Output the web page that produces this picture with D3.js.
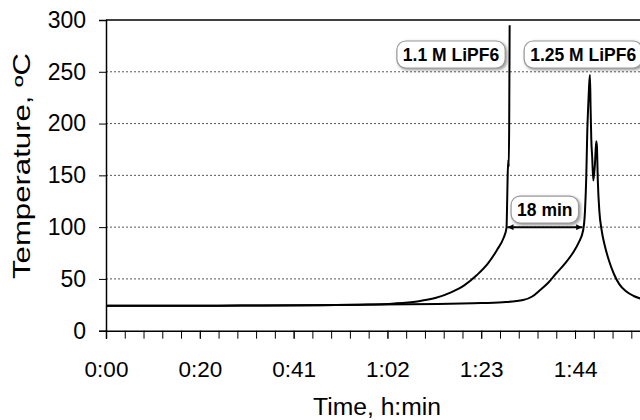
<!DOCTYPE html>
<html>
<head>
<meta charset="utf-8">
<script src="https://cdn.jsdelivr.net/npm/d3@7/dist/d3.min.js"></script>
<style>
  html, body { margin: 0; padding: 0; background: #fff; }
  svg text { font-family: Arial, "Liberation Sans", sans-serif; }
</style>
</head>
<body>
<svg id="chart" width="640" height="420"></svg>
<script>
// ---- data (time in minutes, temperature in °C) ----
const time1 = [0, 15, 30, 45, 58, 64, 69, 73, 76.5, 79.5, 82.3, 84.7, 86.7, 88.1, 88.8, 88.95, 89.05, 89.2, 89.3, 89.4, 89.5];
const temp1 = [24, 24, 24.3, 24.6, 25.2, 26.3, 28.3, 31.5, 37, 44, 54, 65, 78, 89, 99, 125, 148, 165, 158, 200, 295];

const time2 = [0, 15, 30, 45, 60, 73.6, 81.4, 88, 92.5, 94.5, 96.2, 98, 99.9, 101.8, 103.5, 104.8, 105.8, 106.2, 106.5, 106.7, 106.9, 107.1, 107.3, 107.45, 107.6, 107.8, 108.05, 108.4, 108.7, 108.85, 109.05, 109.4, 109.9, 110.6, 111.5, 112.6, 113.8, 115.3, 117, 119, 121.5, 124.8];
const temp2 = [24, 24, 24.3, 24.6, 25.2, 25.8, 26.5, 27.5, 29.6, 33, 39, 46, 55.7, 65, 75, 85, 97, 115, 150, 190, 215, 235, 247, 215, 185, 168, 145, 160, 183, 178, 145, 115, 97, 82, 68, 55, 45, 38, 33.5, 30.5, 28.5, 27];

const xTickValues = [0, 20.8, 41.6, 62.4, 83.2, 104];
const xTickLabels = ["0:00", "0:20", "0:41", "1:02", "1:23", "1:44"];
const yTickValues = [0, 50, 100, 150, 200, 250, 300];

const labels = [
  { text: "1.1 M LiPF6", t: 76.5, T: 266.7 },
  { text: "1.25 M LiPF6", t: 105.8, T: 266.7 },
  { text: "18 min", t: 97.3, T: 117 }
];
const gapArrow = { t1: 88.8, t2: 105.8, T: 100 };

// ---- layout ----
const svg = d3.select("#chart");
const x = d3.scaleLinear().domain([0, 124.8]).range([106, 106 + 124.8 * 4.51]);
const y = d3.scaleLinear().domain([0, 300]).range([330.7, 20]);
const FONT = "Arial, 'Liberation Sans', sans-serif";

const defs = svg.append("defs");
const f = defs.append("filter").attr("id", "sh").attr("x", "-20%").attr("y", "-30%").attr("width", "150%").attr("height", "180%");
f.append("feDropShadow").attr("dx", 1.5).attr("dy", 1.5).attr("stdDeviation", 1.5).attr("flood-color", "#666").attr("flood-opacity", 0.7);

["arrL", "arrR"].forEach((id, i) => {
  defs.append("marker").attr("id", id).attr("viewBox", "0 0 10 10")
    .attr("refX", 10).attr("refY", 5).attr("markerWidth", 9).attr("markerHeight", 6)
    .attr("markerUnits", "userSpaceOnUse")
    .attr("orient", i === 0 ? "auto-start-reverse" : "auto")
    .append("path").attr("d", "M0,0 L10,5 L0,10 Z").attr("fill", "#000");
});

// gridlines
svg.append("g").selectAll("line").data(yTickValues.filter(v => v > 0 && v < 300)).join("line")
  .attr("x1", x(0)).attr("x2", 700).attr("y1", d => y(d)).attr("y2", d => y(d))
  .attr("stroke", "#555").attr("stroke-width", 1).attr("stroke-dasharray", "2,2");
// top border
svg.append("line").attr("x1", x(0)).attr("x2", 700).attr("y1", y(300)).attr("y2", y(300))
  .attr("stroke", "#000").attr("stroke-width", 1.5);

// y axis
const yAxis = svg.append("g").attr("transform", `translate(${x(0)},0)`)
  .call(d3.axisLeft(y).tickValues(yTickValues).tickSize(7).tickPadding(13));
yAxis.selectAll("text").attr("font-size", 23).attr("fill", "#000").style("font-family", FONT);
yAxis.select(".domain").attr("stroke-width", 1.5);

// x axis minor ticks
const minor = d3.range(0, 125, 20.8 / 5);
svg.append("g").attr("transform", `translate(0,${y(0)})`)
  .call(d3.axisBottom(x).tickValues(minor).tickSize(8).tickFormat(""))
  .select(".domain").attr("stroke-width", 1.5);
const xAxis = svg.append("g").attr("transform", `translate(0,${y(0)})`)
  .call(d3.axisBottom(x).tickValues(xTickValues).tickSize(8).tickPadding(22)
    .tickFormat((d, i) => xTickLabels[i]));
xAxis.select(".domain").remove();
xAxis.selectAll("text").attr("font-size", 22.5).attr("fill", "#000").style("font-family", FONT);

// titles
svg.append("text").attr("transform", "translate(30,166) rotate(-90)").attr("text-anchor", "middle")
  .attr("font-size", 23).attr("textLength", 226).attr("lengthAdjust", "spacingAndGlyphs")
  .text("Temperature, ºC");
svg.append("text").attr("x", 377).attr("y", 415).attr("text-anchor", "middle")
  .attr("font-size", 23).attr("textLength", 128).attr("lengthAdjust", "spacingAndGlyphs")
  .text("Time, h:min");

// curves
const line = d3.line().x(d => x(d[0])).y(d => y(d[1])).curve(d3.curveMonotoneX);
[[time1, temp1], [time2, temp2]].forEach(([t, v]) => {
  svg.append("path").datum(t.map((d, i) => [d, v[i]])).attr("d", line)
    .attr("fill", "none").attr("stroke", "#000").attr("stroke-width", 2).attr("stroke-linejoin", "round");
});

// gap arrow
svg.append("line").attr("x1", x(gapArrow.t1) + 1).attr("x2", x(gapArrow.t2) - 1)
  .attr("y1", y(gapArrow.T)).attr("y2", y(gapArrow.T))
  .attr("stroke", "#000").attr("stroke-width", 2)
  .attr("marker-start", "url(#arrL)").attr("marker-end", "url(#arrR)");

// label boxes
labels.forEach(l => {
  const g = svg.append("g").attr("transform", `translate(${x(l.t)},${y(l.T)})`);
  const rect = g.append("rect");
  const txt = g.append("text").attr("text-anchor", "middle").attr("dy", "0.36em")
    .attr("font-size", 17.5).attr("font-weight", "bold").text(l.text);
  const w = txt.node().getComputedTextLength() + 12;
  rect.attr("x", -w / 2).attr("y", -13.5).attr("width", w).attr("height", 27)
    .attr("rx", 9).attr("fill", "#fff").attr("stroke", "#999").attr("stroke-width", 1.2)
    .attr("filter", "url(#sh)");
});
</script>
</body>
</html>
